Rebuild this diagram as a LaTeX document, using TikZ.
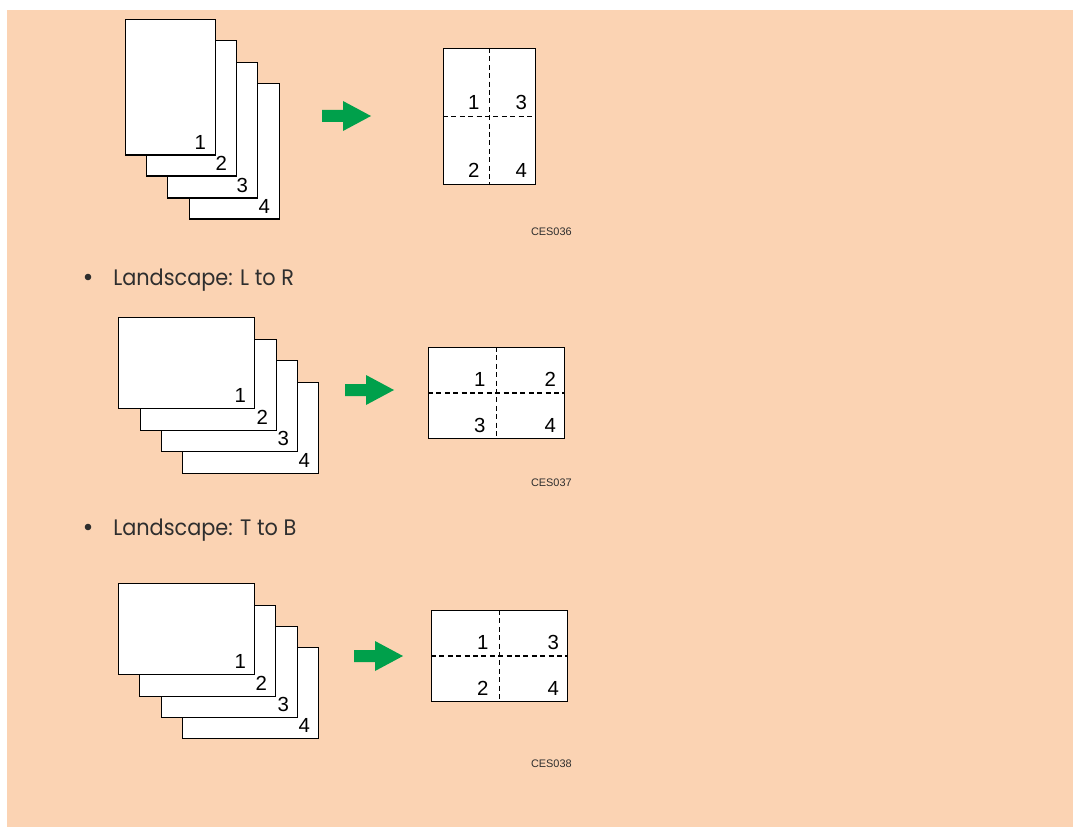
\documentclass[tikz,border=0pt]{standalone}
\usepackage{fontspec}
\setmainfont{Liberation Sans}
\newfontfamily\bulletfont[FakeStretch=0.93]{Poppins}
\usetikzlibrary{positioning,calc}
\definecolor{peach}{HTML}{FBD3B3}
\definecolor{fwdgreen}{HTML}{00A04B}
\definecolor{inktext}{HTML}{2E2E2E}

\tikzset{
  fwd/.pic={\fill[fwdgreen] (0,-6) -- (21,-6) -- (21,-15) -- (49,0) -- (21,15) -- (21,6) -- (0,6) -- cycle;}
}

\begin{document}
\begin{tikzpicture}[
  x=0.75pt,y=-0.75pt,
  sheet/.style={draw,fill=white,line width=0.95pt,anchor=north west,inner sep=0pt},
  portrait/.style={sheet,minimum width=67.5pt,minimum height=101.5pt},
  landscape/.style={sheet,minimum width=102pt,minimum height=68pt},
  pgno/.style={font=\fontsize{15.3}{15}\selectfont,anchor=south east,inner sep=0pt},
  cut/.style={dashed,dash pattern=on 3.7pt off 2.6pt,line width=0.85pt},
  code/.style={font=\fontsize{8.2}{9}\selectfont,text=inktext,anchor=east,inner sep=0pt},
  item/.style={font=\bulletfont\fontsize{16.8}{20}\selectfont,text=inktext,anchor=base west,inner sep=0pt}
]
\useasboundingbox (0,0) rectangle (1073,827);
\fill[peach] (7,10) rectangle (1073,827);

% portrait: four originals
\foreach \i/\x/\y in {4/189/83,3/167/62,2/146/40,1/125/19}{
  \node[portrait] (p\i) at (\x,\y) {};
  \node[pgno] (pn\i) at ($(p\i.south east)+(-10,-6)$) {\i};
}
\pic (go1) at (322,116) {fwd};
% portrait: result
\node[portrait,minimum width=69pt,minimum height=102pt] (pr) at (443,48) {};
\draw[cut] (pr.north) -- (pr.south);
\draw[cut] (pr.west) -- (pr.east);
\node[pgno] (pr1) at ($(pr.center)+(-10,-7)$) {1};
\node[pgno] (pr3) at ($(pr.east)+(-9,-7)$) {3};
\node[pgno] (pr2) at ($(pr.south)+(-10,-7)$) {2};
\node[pgno] (pr4) at ($(pr.south east)+(-9,-7)$) {4};
\node[code] (ces1) at (572,232) {CES036};

% landscape: L to R
\fill[inktext] (88,277) circle (3.3);
\node[item] (lr) at (113,285) {Landscape: L to R};
\foreach \i/\x/\y in {4/182/382,3/161/360,2/140/339,1/118/317}{
  \node[landscape] (l\i) at (\x,\y) {};
  \node[pgno] (ln\i) at ($(l\i.south east)+(-9,-6)$) {\i};
}
\pic (go2) at (345,390) {fwd};
\node[landscape] (lrr) at (428,347) {};
\draw[cut] (lrr.north) -- (lrr.south);
\draw[cut] (lrr.west) -- (lrr.east);
\node[pgno] (lrr1) at ($(lrr.center)+(-11,-6)$) {1};
\node[pgno] (lrr2) at ($(lrr.east)+(-9,-6)$) {2};
\node[pgno] (lrr3) at ($(lrr.south)+(-11,-6)$) {3};
\node[pgno] (lrr4) at ($(lrr.south east)+(-9,-6)$) {4};
\node[code] (ces2) at (572,483) {CES037};

% landscape: T to B
\fill[inktext] (88,527) circle (3.3);
\node[item] (tb) at (113,535) {Landscape: T to B};
\foreach \i/\x/\y in {4/182/647,3/161/626,2/139/605,1/118/583}{
  \node[landscape] (t\i) at (\x,\y) {};
  \node[pgno] (tn\i) at ($(t\i.south east)+(-9,-6)$) {\i};
}
\pic (go3) at (354,656) {fwd};
\node[landscape] (tbr) at (431,610) {};
\draw[cut] (tbr.north) -- (tbr.south);
\draw[cut] (tbr.west) -- (tbr.east);
\node[pgno] (tbr1) at ($(tbr.center)+(-11,-6)$) {1};
\node[pgno] (tbr3) at ($(tbr.east)+(-9,-6)$) {3};
\node[pgno] (tbr2) at ($(tbr.south)+(-11,-6)$) {2};
\node[pgno] (tbr4) at ($(tbr.south east)+(-9,-6)$) {4};
\node[code] (ces3) at (572,764) {CES038};
\end{tikzpicture}
\end{document}
